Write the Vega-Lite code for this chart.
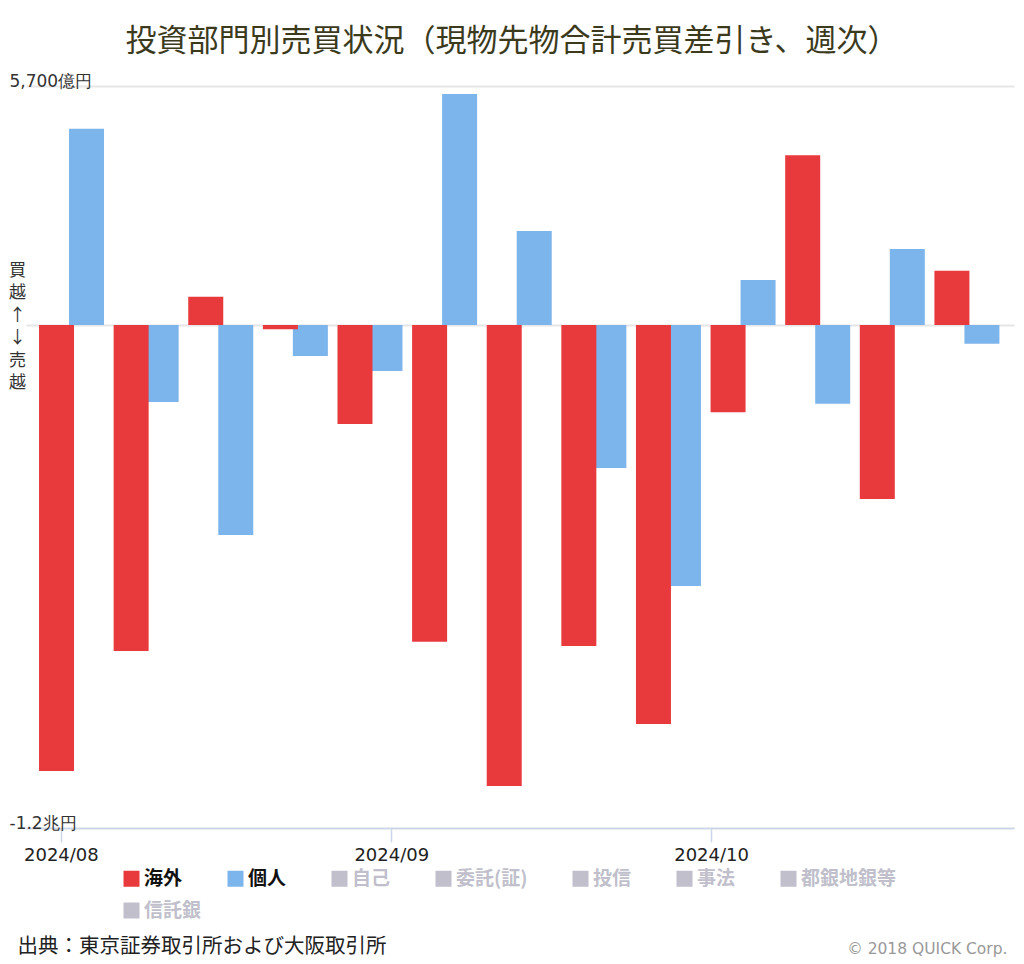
{
  "$schema": "https://vega.github.io/schema/vega-lite/v6.json",
  "width": 988,
  "height": 742,
  "autosize": {"type": "none"},
  "padding": {"left": 26, "top": 86, "right": 10, "bottom": 136},
  "background": "white",
  "title": {
    "text": "投資部門別売買状況（現物先物合計売買差引き、週次）",
    "font": "Noto Sans CJK JP",
    "fontSize": 31,
    "fontWeight": "normal",
    "color": "#3b3a1c",
    "anchor": "middle",
    "frame": "group",
    "dx": -8,
    "offset": 14
  },
  "data": {
    "values": [
      {"date": "2024-08-02", "series": "海外", "value": -10640},
      {"date": "2024-08-02", "series": "個人", "value": 4680},
      {"date": "2024-08-09", "series": "海外", "value": -7780},
      {"date": "2024-08-09", "series": "個人", "value": -1840},
      {"date": "2024-08-16", "series": "海外", "value": 670},
      {"date": "2024-08-16", "series": "個人", "value": -5010},
      {"date": "2024-08-23", "series": "海外", "value": -100},
      {"date": "2024-08-23", "series": "個人", "value": -740},
      {"date": "2024-08-30", "series": "海外", "value": -2360},
      {"date": "2024-08-30", "series": "個人", "value": -1100},
      {"date": "2024-09-06", "series": "海外", "value": -7560},
      {"date": "2024-09-06", "series": "個人", "value": 5510},
      {"date": "2024-09-13", "series": "海外", "value": -11000},
      {"date": "2024-09-13", "series": "個人", "value": 2240},
      {"date": "2024-09-20", "series": "海外", "value": -7660},
      {"date": "2024-09-20", "series": "個人", "value": -3410},
      {"date": "2024-09-27", "series": "海外", "value": -9520},
      {"date": "2024-09-27", "series": "個人", "value": -6230},
      {"date": "2024-10-04", "series": "海外", "value": -2080},
      {"date": "2024-10-04", "series": "個人", "value": 1070},
      {"date": "2024-10-11", "series": "海外", "value": 4050},
      {"date": "2024-10-11", "series": "個人", "value": -1880},
      {"date": "2024-10-18", "series": "海外", "value": -4150},
      {"date": "2024-10-18", "series": "個人", "value": 1810},
      {"date": "2024-10-25", "series": "海外", "value": 1290},
      {"date": "2024-10-25", "series": "個人", "value": -450}
    ]
  },
  "encoding": {
    "x": {
      "field": "date",
      "type": "temporal",
      "scale": {
        "type": "utc",
        "nice": false,
        "padding": 0,
        "domain": [
          {"year": 2024, "month": 7, "date": 28, "hours": 17, "minutes": 30, "utc": true},
          {"year": 2024, "month": 10, "date": 29, "hours": 10, "utc": true}
        ]
      },
      "axis": {
        "values": [
          {"year": 2024, "month": 8, "date": 1, "utc": true},
          {"year": 2024, "month": 9, "date": 1, "utc": true},
          {"year": 2024, "month": 10, "date": 1, "utc": true}
        ],
        "format": "%Y/%m",
        "grid": false,
        "domainColor": "#ccd6eb",
        "domainWidth": 1.5,
        "tickColor": "#ccd6eb",
        "tickWidth": 1.5,
        "tickSize": 14,
        "labelFont": "DejaVu Sans",
        "labelFontSize": 18,
        "labelColor": "#222",
        "labelPadding": 4,
        "labelFlush": false,
        "labelOverlap": false,
        "title": "出典：東京証券取引所および大阪取引所",
        "titleX": -9,
        "titleY": 118,
        "titleAlign": "left",
        "titleAnchor": "start",
        "titleBaseline": "middle",
        "titleFont": "Noto Sans CJK JP",
        "titleFontSize": 20.5,
        "titleFontWeight": "normal",
        "titleColor": "#222"
      }
    },
    "color": {
      "field": "series",
      "type": "nominal",
      "scale": {
        "domain": ["海外", "個人", "自己", "委託(証)", "投信", "事法", "都銀地銀等"],
        "range": ["#e8393c", "#7cb5ec", "#c0bfcb", "#c0bfcb", "#c0bfcb", "#c0bfcb", "#c0bfcb"]
      },
      "legend": {
        "orient": "none",
        "legendX": 96,
        "legendY": 783,
        "direction": "horizontal",
        "columns": 7,
        "title": null,
        "symbolType": "square",
        "symbolSize": 256,
        "symbolStrokeWidth": 0,
        "symbolOpacity": 1,
        "labelFont": "Noto Sans CJK JP",
        "labelFontSize": 19,
        "labelFontWeight": "bold",
        "labelOffset": 3,
        "labelLimit": 300,
        "columnPadding": 43,
        "rowPadding": 13,
        "encode": {
          "labels": {
            "update": {
              "fill": {"signal": "indexof(['海外','個人'], datum.value) >= 0 ? '#111111' : '#c0bfcb'"}
            }
          }
        }
      }
    }
  },
  "layer": [
    {
      "transform": [{"filter": "datum.series === '個人'"}],
      "mark": {"type": "bar", "width": 35, "xOffset": 15},
      "encoding": {
        "y": {
          "field": "value",
          "type": "quantitative",
          "scale": {"domain": [-12000, 5700], "nice": false, "zero": false},
          "axis": {
            "orient": "right",
            "labels": false,
            "ticks": false,
            "domain": false,
            "grid": false,
            "title": "© 2018 QUICK Corp.",
            "titleAngle": 0,
            "titleX": -7,
            "titleY": 862,
            "titleAlign": "right",
            "titleBaseline": "middle",
            "titleFont": "DejaVu Sans",
            "titleFontSize": 15.5,
            "titleFontWeight": "normal",
            "titleColor": "#999999"
          }
        }
      }
    },
    {
      "transform": [{"filter": "datum.series === '海外'"}],
      "mark": {"type": "bar", "width": 35, "xOffset": -15, "strokeWidth": 0},
      "encoding": {
        "y": {
          "field": "value",
          "type": "quantitative",
          "scale": {"domain": [-12000, 5700], "nice": false, "zero": false},
          "axis": {
            "orient": "left",
            "values": [-12000, 0, 5700],
            "labelExpr": "datum.value == 5700 ? '5,700億円' : (datum.value == -12000 ? '-1.2兆円' : '')",
            "labelAlign": "left",
            "labelBaseline": "alphabetic",
            "labelPadding": 17,
            "ticks": false,
            "tickSize": 0,
            "domain": false,
            "grid": true,
            "gridColor": "#e6e6e6",
            "gridWidth": 2,
            "labelFont": "DejaVu Sans",
            "labelFontSize": 17,
            "labelColor": "#333333",
            "labelFlush": false,
            "labelOverlap": false,
            "title": ["買", "越", "↑", "↓", "売", "越"],
            "titleAngle": 0,
            "titleX": -9,
            "titleY": 176,
            "titleAlign": "center",
            "titleBaseline": "top",
            "titleFont": "Noto Sans CJK JP",
            "titleFontSize": 17,
            "titleFontWeight": "normal",
            "titleLineHeight": 22.5,
            "titleColor": "#333333"
          }
        },
        "stroke": {
          "field": "series",
          "type": "nominal",
          "scale": {"domain": ["信託銀"], "range": ["#c0bfcb"]},
          "legend": {
            "orient": "none",
            "legendX": 96,
            "legendY": 815,
            "title": null,
            "symbolType": "square",
            "symbolSize": 256,
            "symbolStrokeWidth": 0,
            "symbolFillColor": "#c0bfcb",
            "symbolOpacity": 1,
            "labelFont": "Noto Sans CJK JP",
            "labelFontSize": 19,
            "labelFontWeight": "bold",
            "labelOffset": 3,
            "labelColor": "#c0bfcb",
            "encode": {
              "symbols": {
                "update": {
                  "fill": {"value": "#c0bfcb"},
                  "strokeWidth": {"value": 0}
                }
              }
            }
          }
        }
      }
    }
  ],
  "resolve": {"scale": {"y": "independent"}, "axis": {"y": "independent"}},
  "config": {"view": {"stroke": null}}
}
